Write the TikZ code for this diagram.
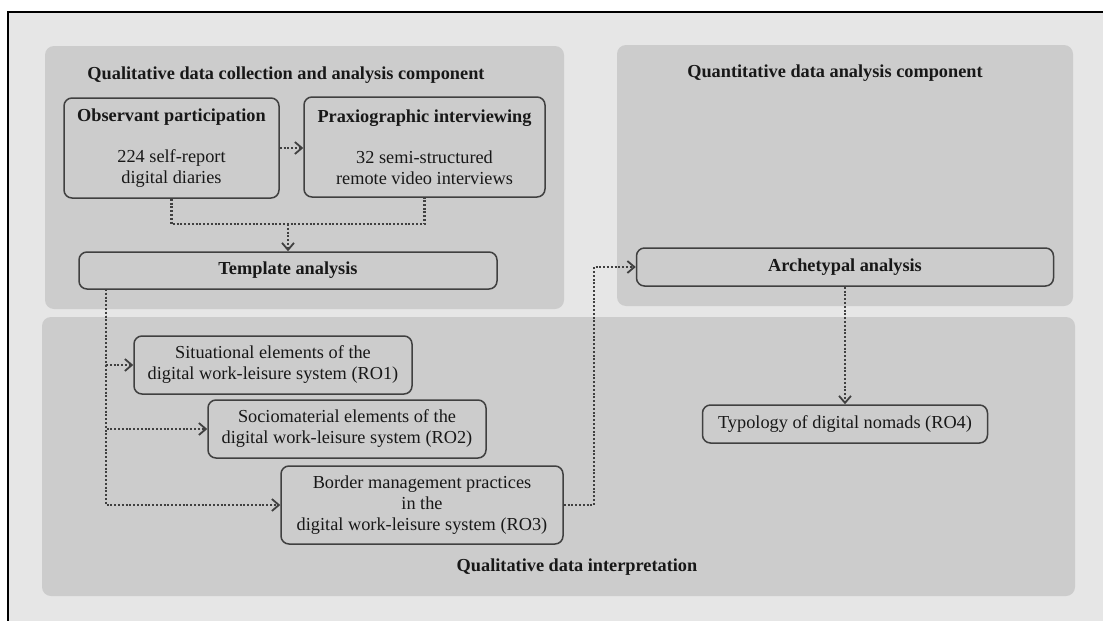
\documentclass[tikz,border=0pt]{standalone}
\usepackage{fontspec}
\setmainfont{Liberation Serif}
\usetikzlibrary{arrows.meta}
\definecolor{pagebg}{HTML}{E6E6E6}
\definecolor{panelbg}{HTML}{CCCCCC}
\definecolor{edge}{HTML}{404040}
\definecolor{ink}{HTML}{181818}
\begin{document}
\begin{tikzpicture}[x=1pt,y=-1pt,
  every node/.style={font=\fontsize{18.3}{21}\selectfont, text=ink},
  panel/.style={fill=panelbg, rounded corners=9pt},
  box/.style={draw=edge, line width=1.5pt, rounded corners=8pt, fill=panelbg, align=center, inner sep=0pt},
  heading/.style={font=\fontsize{18.3}{21}\selectfont\bfseries},
  link/.style={draw=edge, line width=2.2pt, dash pattern=on 2pt off 1.8pt},
  flow/.style={link, -{Straight Barb[length=7pt,width=12pt,line width=1.8pt]}}
]
\useasboundingbox (0,0) rectangle (1103,621);
\fill[white] (0,0) rectangle (1103,621);
\fill[pagebg] (8,12) rectangle (1103,621);
\draw[black, line width=1.5pt] (8,621) -- (8,12) -- (1103,12);

% component panels
\fill[panel] (45,46) rectangle (564,309);
\fill[panel] (617,45) rectangle (1073,306);
\fill[panel] (42,317) rectangle (1075,596);

% panel titles
\node[heading] (t1) at (286,75) {Qualitative data collection and analysis component};
\node[heading] (t2) at (835,73) {Quantitative data analysis component};
\node[heading] (t3) at (577,567) {Qualitative data interpretation};

% method boxes
\node[box, minimum width=215pt, minimum height=100pt] (obs) at (171.5,148)
  {\textbf{Observant participation}\\[20pt]224 self-report\\digital diaries};
\node[box, minimum width=241pt, minimum height=100pt] (prax) at (424.5,147)
  {\textbf{Praxiographic interviewing}\\[20pt]32 semi-structured\\remote video interviews};
\node[box, minimum width=418pt, minimum height=37pt] (tmpl) at (288,270.5) {\textbf{Template analysis}};
\node[box, minimum width=417pt, minimum height=38pt] (arch) at (845,267) {\textbf{Archetypal analysis}};

% research objective boxes
\node[box, minimum width=278pt, minimum height=58pt] (sit) at (273,365)
  {Situational elements of the\\digital work-leisure system (RO1)};
\node[box, minimum width=278pt, minimum height=58pt] (soc) at (347,429)
  {Sociomaterial elements of the\\digital work-leisure system (RO2)};
\node[box, minimum width=282pt, minimum height=78pt] (bord) at (422,505)
  {Border management practices\\in the\\digital work-leisure system (RO3)};
\node[box, minimum width=285pt, minimum height=38pt] (typ) at (845,424)
  {Typology of digital nomads (RO4)};

% connectors
\coordinate (merge) at (288,224);
\draw[link] (obs.south) |- (merge) -| (prax.south);
\draw[flow] (merge) -- (tmpl.north);
\draw[flow] (obs.east) -- (obs.east -| prax.west);

\coordinate (trunk) at (106,289);
\draw[flow] (trunk) |- (sit.west);
\draw[flow] (trunk) |- (soc.west);
\draw[flow] (trunk) |- (bord.west);

\coordinate (bend) at (594,267);
\draw[flow] (bord.east) -| (bend) -- (arch.west);
\draw[flow] (arch.south) -- (typ.north);
\end{tikzpicture}
\end{document}
